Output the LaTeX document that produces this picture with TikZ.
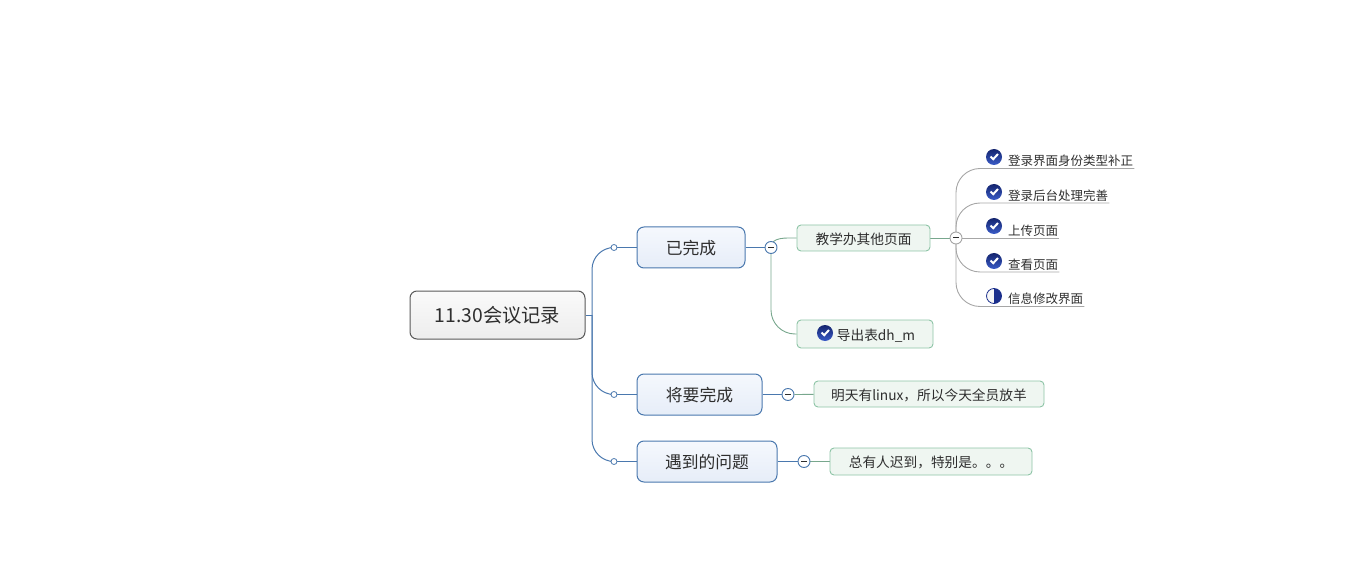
\documentclass[tikz,border=0pt]{standalone}
\usepackage{fontspec}
\setmainfont{Noto Sans CJK SC}
\usetikzlibrary{shapes,arrows,positioning,calc,backgrounds}

\definecolor{inkc}{HTML}{2E2E2E}
\definecolor{bluec}{HTML}{4A78AE}
\definecolor{greenc}{HTML}{8DC4A6}
\definecolor{grayc}{HTML}{A6A6A6}
\definecolor{ballc}{HTML}{1B2F8C}
\definecolor{balltopc}{HTML}{14246E}
\definecolor{ballbotc}{HTML}{3A5CC8}
\definecolor{maintopc}{HTML}{F5F8FD}
\definecolor{mainbotc}{HTML}{E6EDF8}
\definecolor{subfillc}{HTML}{EFF6F1}

\tikzset{
    rootbox/.style={draw=black!65, line width=1pt, rounded corners=7pt, top color=black!2, bottom color=black!7,
        minimum width=175pt, minimum height=48pt, inner sep=0pt, text=inkc, font=\fontsize{19.3}{22}\selectfont},
    mainbox/.style={draw=bluec, line width=1pt, rounded corners=7pt, top color=maintopc, bottom color=mainbotc,
        minimum height=41pt, inner sep=0pt, text=inkc, text height=14.9pt, text depth=0pt, font=\fontsize{16.8}{20}\selectfont},
    subbox/.style={draw=greenc, line width=0.9pt, rounded corners=4pt, fill=subfillc,
        minimum height=26pt, inner sep=0pt, text=inkc, text height=12.5pt, text depth=0pt, font=\fontsize{13.7}{16}\selectfont},
    leaf/.style={anchor=south west, inner xsep=1pt, inner ysep=0pt, minimum height=17pt, text=inkc,
        text height=11.5pt, text depth=0pt, font=\fontsize{12.5}{15}\selectfont},
    dot/.style={circle, draw=bluec, fill=white, line width=0.8pt, minimum size=6pt, inner sep=0pt},
    fold/.style={circle, draw=#1, fill=white, line width=0.9pt, minimum size=12pt, inner sep=0pt,
        path picture={\draw[inkc, line width=1pt] ([xshift=-3pt]path picture bounding box.center) -- ([xshift=3pt]path picture bounding box.center);}},
    doneicon/.style={circle, minimum size=16pt, inner sep=0pt, top color=balltopc, bottom color=ballbotc,
        path picture={\draw[white, line width=2pt]
            ([shift={(-3.5pt,0.5pt)}]path picture bounding box.center) -- ([shift={(-0.8pt,-2.2pt)}]path picture bounding box.center)
            -- ([shift={(4pt,3pt)}]path picture bounding box.center);}},
    halficon/.style={circle, draw=ballc, line width=0.8pt, minimum size=15pt, inner sep=0pt, fill=black!3,
        path picture={\fill[ballc] (path picture bounding box.north) rectangle (path picture bounding box.south east);}},
    bluelink/.style={draw=bluec, line width=1pt},
    greenlink/.style={draw=greenc!85!black, line width=0.9pt},
    graylink/.style={draw=grayc, line width=0.9pt},
}

\begin{document}
\begin{tikzpicture}[x=1pt,y=-1pt]
    \useasboundingbox (0,0) rectangle (1347,588);

    % Central topic
    \node[rootbox] (root) at (497.5,315) {11.30会议记录};
    \coordinate (trunk) at (592,315);

    % Main topics
    \node[mainbox, minimum width=108pt] (done) at (691,247.5) {已完成};
    \node[mainbox, minimum width=125pt] (todo) at (699.5,394.5) {将要完成};
    \node[mainbox, minimum width=140pt] (issue) at (707,461.5) {遇到的问题};
    \node[dot] (dotdone) at (614,247.5) {};
    \node[dot] (dottodo) at (614,394.5) {};
    \node[dot] (dotissue) at (614,461.5) {};

    % Fold markers
    \node[fold=bluec] (folddone) at (771,247.5) {};
    \node[fold=grayc] (foldteach) at (956,238) {};
    \node[fold=bluec] (foldtodo) at (788,394.5) {};
    \node[fold=bluec] (foldissue) at (804,461.5) {};

    % Subtopics
    \node[subbox, minimum width=133pt] (teach) at (863.5,238) {教学办其他页面};
    \node[subbox, minimum width=136pt, minimum height=28pt] (export) at (865,334) {\hspace*{22pt}导出表dh\_m};
    \node[subbox, minimum width=230pt] (linux) at (929,394) {明天有linux，所以今天全员放羊};
    \node[subbox, minimum width=202pt, minimum height=27pt] (late) at (931,461.5) {总有人迟到，特别是。。。};

    % Leaf items
    \node[leaf] (login) at (1007,168.5) {登录界面身份类型补正};
    \node[leaf] (backend) at (1007,203) {登录后台处理完善};
    \node[leaf] (upload) at (1007,238) {上传页面};
    \node[leaf] (view) at (1007,272) {查看页面};
    \node[leaf] (info) at (1007,306.5) {信息修改界面};

    % Task icons
    \node[doneicon] (icologin) at (994,157) {};
    \node[doneicon] (icobackend) at (994,192) {};
    \node[doneicon] (icoupload) at (994,226) {};
    \node[doneicon] (icoview) at (994,261) {};
    \node[halficon] (icoinfo) at (994,296) {};
    \node[doneicon] (icoexport) at (825,333) {};

    % Connectors
    \begin{scope}[on background layer]
        \draw[bluelink] (root.east) -- (trunk);
        \draw[bluelink, rounded corners=22pt] (trunk) |- (dotdone);
        \draw[bluelink, rounded corners=22pt] (trunk) |- (dottodo);
        \draw[bluelink, rounded corners=22pt] (trunk) |- (dotissue);
        \draw[bluelink] (dotdone) -- (done);
        \draw[bluelink] (dottodo) -- (todo);
        \draw[bluelink] (dotissue) -- (issue);
        \draw[bluelink] (done) -- (folddone);
        \draw[bluelink] (todo) -- (foldtodo);
        \draw[bluelink] (issue) -- (foldissue);

        \draw[greenlink] (folddone.center) to[out=90, in=180] (teach.west);
        \draw[greenlink, rounded corners=24pt] (folddone.center) |- (export.west);
        \draw[greenlink] (foldtodo) -- (linux);
        \draw[greenlink] (foldissue) -- (late);
        \draw[greenlink] (teach) -- (foldteach);

        \draw[graylink, rounded corners=24pt] (foldteach.center) |- (login.south east);
        \draw[graylink, rounded corners=24pt] (foldteach.center) |- (backend.south east);
        \draw[graylink] (foldteach.center) -- (upload.south east);
        \draw[graylink, rounded corners=24pt] (foldteach.center) |- (view.south east);
        \draw[graylink, rounded corners=24pt] (foldteach.center) |- (info.south east);
    \end{scope}
\end{tikzpicture}
\end{document}
